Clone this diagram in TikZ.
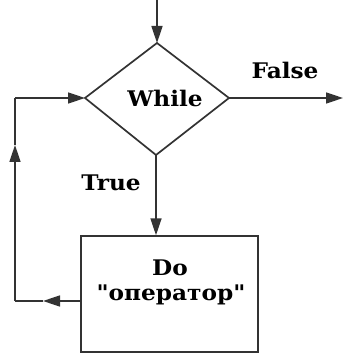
\documentclass[tikz,border=0pt]{standalone}
\usepackage{fontspec}
\newfontfamily\monob{DejaVu Serif}[FakeStretch=1.08]
\usetikzlibrary{arrows.meta,shapes.geometric}
\definecolor{ln}{HTML}{333333}
\tikzset{
  x=1pt,y=1pt,
  ln/.style={draw=ln,line width=1.7pt},
  arr/.style={ln,-{Triangle[length=17pt,width=11pt]}},
  lbl/.style={font=\monob\bfseries\fontsize{21.5}{24}\selectfont,inner sep=0pt,text=black},
}
\begin{document}
\begin{tikzpicture}
\useasboundingbox (0,0) rectangle (345,355);
\coordinate (top) at (157,355);
\coordinate (dt) at (157,312);
\coordinate (dl) at (85,257);
\coordinate (dr) at (229,257);
\coordinate (db) at (156,200);
\draw[ln,fill=white] (dt) -- (dr) -- (db) -- (dl) -- cycle;
\node[lbl] (while) at (165,257) {While};
\node[ln,fill=white,minimum width=177pt,minimum height=116pt,anchor=south west,inner sep=0pt] (box) at (80,2) {};
\node[lbl] (do) at (170,87) {Do};
\node[lbl] (op) at (171,60) {"оператор"};
\node[lbl] (false) at (285,285) {False};
\node[lbl] (true) at (111,172) {True};
\coordinate (out) at (343,257);
\draw[arr] (top) -- (dt);
\draw[arr] (dr) -- (out);
\draw[arr] (db) -- (box.north -| db);
\coordinate (b0) at (80,54);
\coordinate (m1) at (43,54);
\coordinate (c1) at (15,54);
\coordinate (m2) at (15,210);
\coordinate (c2) at (15,257);
\draw[arr] (b0) -- (m1);
\draw[ln] (m1) -- (c1);
\draw[arr] (c1) -- (m2);
\draw[ln] (m2) -- (c2);
\draw[arr] (c2) -- (dl);
\end{tikzpicture}
\end{document}
